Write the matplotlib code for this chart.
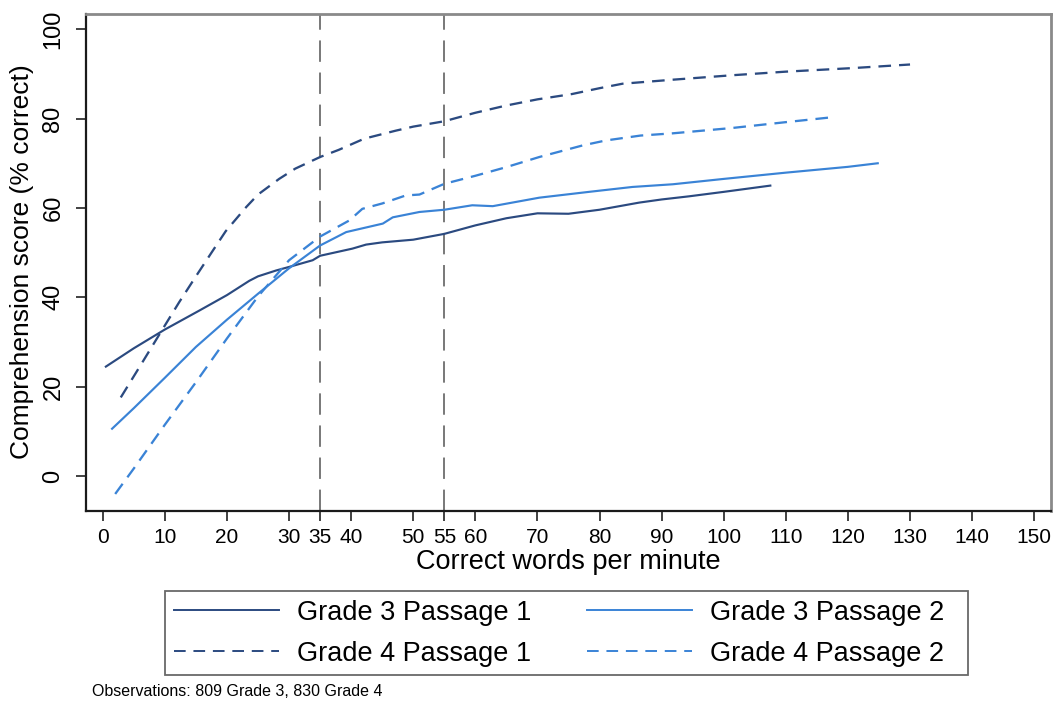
import matplotlib
matplotlib.use('Agg')
import matplotlib.pyplot as plt
from matplotlib.lines import Line2D

plt.rcParams['font.family'] = ['Liberation Sans', 'DejaVu Sans']

# fitted curves
g3p1_x = [0.5, 5, 10, 15.5, 20, 23.6, 25, 27.9, 30, 33.8, 35, 40.2, 42.4, 45, 50, 55, 60, 65, 70, 75, 80, 86.4, 90, 94.4, 100, 107.5]
g3p1_y = [24.5, 28.6, 32.8, 37.0, 40.5, 43.7, 44.7, 46.0, 46.8, 48.3, 49.3, 50.9, 51.8, 52.3, 52.9, 54.2, 56.1, 57.7, 58.8, 58.7, 59.6, 61.2, 61.9, 62.6, 63.6, 65.0]

g3p2_x = [1.5, 5, 10, 15, 20, 25, 30, 35, 39.2, 45.1, 46.7, 51, 55, 59.5, 62.8, 70.3, 78.3, 85.3, 91.8, 100, 110, 120, 124.8]
g3p2_y = [10.6, 15.2, 22.0, 28.9, 35.0, 40.8, 46.5, 51.6, 54.6, 56.5, 57.9, 59.1, 59.6, 60.6, 60.4, 62.3, 63.6, 64.7, 65.3, 66.5, 67.9, 69.2, 70.0]

g4p1_x = [2.9, 6, 9.6, 12.3, 15, 17.7, 19.8, 23.1, 25, 28.4, 31, 35, 38, 42.1, 47.2, 50, 55, 60, 64.9, 70, 75.6, 80, 83.7, 91.8, 101.4, 110, 120.8, 130]
g4p1_y = [17.6, 24.6, 32.8, 38.9, 44.7, 50.4, 54.8, 60.2, 63.0, 66.5, 68.8, 71.4, 73.0, 75.5, 77.3, 78.2, 79.4, 81.3, 82.9, 84.3, 85.5, 86.8, 87.8, 88.7, 89.7, 90.5, 91.3, 92.1]

g4p2_x = [2, 5, 10, 15, 20, 25, 30, 35, 39.7, 41.8, 45, 48.8, 51, 55, 60, 64.9, 70.3, 77.3, 81, 86.6, 91.8, 101.4, 110, 116.8]
g4p2_y = [-4.0, 1.7, 11.5, 21.0, 30.8, 40.2, 48.3, 53.6, 57.2, 59.8, 61.0, 62.8, 63.0, 65.4, 67.2, 69.1, 71.4, 74.0, 75.1, 76.2, 76.7, 77.9, 79.2, 80.2]

cutoffs = [35, 55]
xticks = [0, 10, 20, 30, 35, 40, 50, 55, 60, 70, 80, 90, 100, 110, 120, 130, 140, 150]
yticks = [0, 20, 40, 60, 80, 100]

dark = '#2b4a80'
light = '#3a83d6'
dash = (0, (5.5, 3.5))

fig = plt.figure(figsize=(10.54, 7.07), dpi=100)
ax = fig.add_axes([86/1054, 1 - 510.5/707, (1051-86)/1054, (510.5-14)/707])

for c in cutoffs:
    ax.axvline(c, color='#787878', lw=1.4, ls=(0, (11, 5.5)), zorder=1)

ax.plot(g3p1_x, g3p1_y, color=dark, lw=1.55, zorder=3)
ax.plot(g3p2_x, g3p2_y, color=light, lw=1.55, zorder=3)
ax.plot(g4p1_x, g4p1_y, color=dark, lw=1.65, ls=dash, zorder=3)
ax.plot(g4p2_x, g4p2_y, color=light, lw=1.65, ls=dash, zorder=3)

ax.set_xlim(-2.7, 152.7)
ax.set_ylim(-7.7, 103.4)
ax.set_xticks(xticks)
ax.set_yticks(yticks)
ax.tick_params(direction='out', length=7.5, width=1.3, color='#333333')
ax.tick_params(axis='x', pad=5, labelsize=15)
ax.tick_params(axis='y', pad=8, labelsize=17)
for lab in ax.get_yticklabels():
    lab.set_rotation(90)
    lab.set_va('center')

for s in ['left', 'bottom']:
    ax.spines[s].set_color('#1a1a1a')
    ax.spines[s].set_linewidth(1.6)
for s in ['top', 'right']:
    ax.spines[s].set_color('#8a8a8a')
    ax.spines[s].set_linewidth(2.0)

fig.text(568/1054, 1 - 562/707, 'Correct words per minute', ha='center', va='center', fontsize=19.5)
fig.text(22/1054, 1 - 262/707, 'Comprehension score (% correct)', ha='center', va='center',
         rotation=90, fontsize=19)

handles = [Line2D([], [], color=dark, lw=1.4),
           Line2D([], [], color=dark, lw=1.4, ls=(0, (6, 4))),
           Line2D([], [], color=light, lw=1.4),
           Line2D([], [], color=light, lw=1.4, ls=(0, (6, 4)))]
# trailing spaces only widen the box on the right, like the original
labels = ['Grade 3 Passage 1', 'Grade 4 Passage 1', 'Grade 3 Passage 2  ', 'Grade 4 Passage 2  ']
leg = fig.legend(handles, labels, ncol=2, loc='upper left', bbox_to_anchor=(165/1054, 1 - 591/707),
                 fontsize=19.5, handlelength=3.9, handletextpad=0.65, columnspacing=2.05,
                 labelspacing=0.55, borderpad=0.32, borderaxespad=0, frameon=True, fancybox=False)
leg.get_frame().set_edgecolor('#444444')
leg.get_frame().set_linewidth(1.3)

fig.text(92/1054, 1 - 692/707, 'Observations: 809 Grade 3, 830 Grade 4', ha='left', va='center', fontsize=11.5)

fig.savefig('out.png', dpi=100)
